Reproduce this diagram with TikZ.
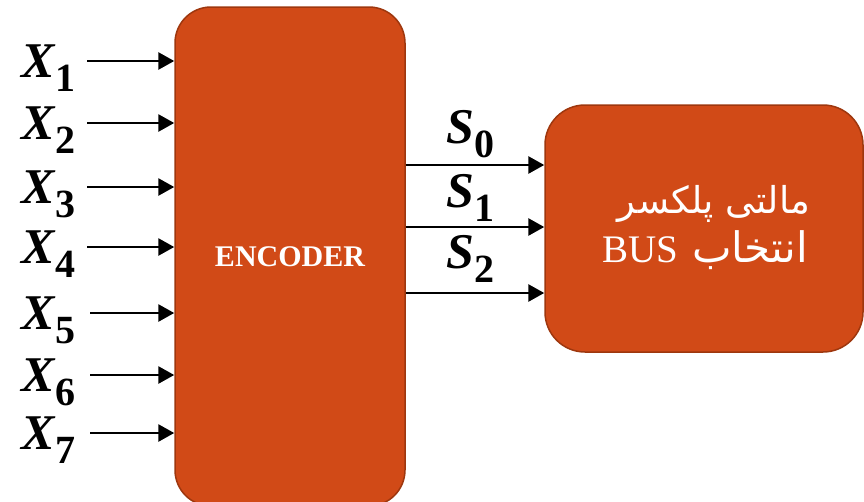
\documentclass[tikz,border=0pt]{standalone}
\usepackage{fontspec}
\setmainfont{Liberation Serif}
\newfontfamily\arabicfont[Script=Arabic]{DejaVu Sans}
\newfontfamily\latinserif{Liberation Serif}
\TeXXeTstate=1
\usetikzlibrary{arrows.meta}
\definecolor{boxfill}{RGB}{209,74,23}
\definecolor{boxedge}{RGB}{158,55,14}
\newcommand{\sublbl}[2]{{\fontsize{50}{50}\selectfont\textbf{\textit{#1}}}\raisebox{-14pt}{\fontsize{40}{40}\selectfont\textbf{#2}}}
\begin{document}
\begin{tikzpicture}[x=1pt,y=-1pt,
  blk/.style={draw=boxedge,line width=1.5pt,fill=boxfill,rounded corners=36pt,inner sep=0pt},
  arr/.style={line width=2.8pt,-{Triangle[length=16pt,width=17pt]}},
  lbl/.style={inner sep=0pt,anchor=base west},
  muxline/.style={inner sep=0pt,text=white}]
\useasboundingbox (0,0) rectangle (864,501);
\node[blk,minimum width=230pt,minimum height=499pt] (enc) at (290,256.5)
  {\fontsize{30}{30}\selectfont\bfseries\color{white}ENCODER};
\node[blk,rounded corners=40pt,minimum width=318pt,minimum height=247pt] (mux) at (704,228.5) {};
\node[muxline,anchor=base] (muxa) at (714,213)
  {\arabicfont\fontsize{37}{40}\selectfont\beginR مالتی پلکسر\endR};
\node[muxline,anchor=base west] (muxbus) at (602,262)
  {\latinserif\fontsize{39}{40}\selectfont BUS};
\node[muxline,anchor=base east] (muxb) at (808,262)
  {\arabicfont\fontsize{42}{44}\selectfont\beginR انتخاب\endR};
% inputs
\foreach \i/\y/\xs in {1/61/87,2/123/87,3/187/87,4/247/87,5/313/90,6/375/90,7/433/90}{
  \node[lbl] (xl\i) at (21,\y+16) {\sublbl{X}{\i}};
  \coordinate (xs\i) at (\xs,\y);
  \draw[arr] (xs\i) -- (xs\i -| enc.west);
}
% outputs
\foreach \i/\y/\b in {0/165/143,1/227/207,2/293/268}{
  \node[lbl] (sl\i) at (446,\b) {\sublbl{S}{\i}};
  \coordinate (ss\i) at (enc.east |- 0,\y);
  \draw[arr] (ss\i) -- (ss\i -| mux.west);
}
\end{tikzpicture}
\end{document}
